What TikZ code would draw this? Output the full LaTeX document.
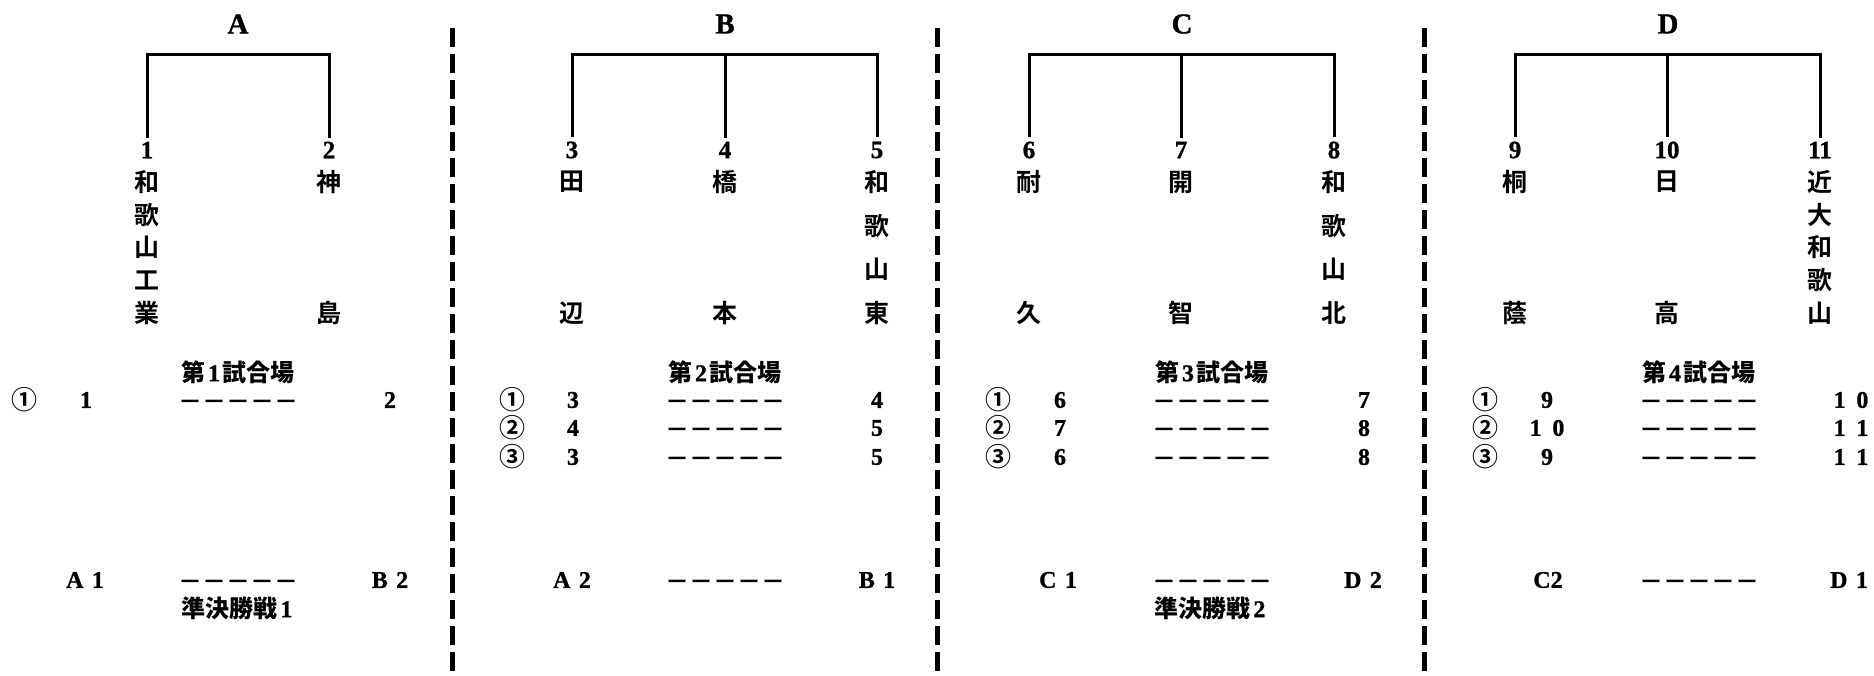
\documentclass[tikz,border=0pt]{standalone}
\usepackage{fontspec}
\setmainfont{Liberation Serif}[BoldFont={Liberation Serif Bold}, BoldFeatures={FakeBold=1}]
\newfontfamily\jp{Noto Sans CJK JP Bold}
\newcommand\mkvname[4]{%
  \foreach \ch [count=\i] in {#4} {%
    \node[kanji] (#1-\i) at (#2, {182+(\i-1)*131/(#3-1)}) {\ch};
  }%
}
\newcommand\gsp{\hspace{0.35em}}
\begin{document}
\begin{tikzpicture}[x=1pt,y=-1pt,
  every node/.style={inner sep=0pt},
  grp/.style={font=\fontsize{29}{29}\selectfont\bfseries},
  num/.style={font=\fontsize{25}{25}\selectfont\bfseries, inner sep=4pt},
  kanji/.style={font=\fontsize{25}{25}\selectfont\jp},
  lbl/.style={font=\fontsize{24}{24}\selectfont\bfseries},
  dsh/.style={font=\fontsize{24}{24}\selectfont\jp, yshift=-5pt},
  circ/.style={font=\fontsize{26}{26}\selectfont\jp},
  bracket/.style={line width=3pt},
  sep/.style={line width=5pt, dash pattern=on 18.5pt off 7.5pt}
]
\useasboundingbox (0,0) rectangle (1874,675);

% group titles
\node[grp] (gA) at (238,24) {A};
\node[grp] (gB) at (725,24) {B};
\node[grp] (gC) at (1182,24) {C};
\node[grp] (gD) at (1668,24) {D};

\coordinate (tA) at (238,54);
\coordinate (tB) at (725,54);
\coordinate (tC) at (1181,54);
\coordinate (tD) at (1667,54);

% team numbers
\node[num] (n1) at (147,150) {1};
\node[num] (n2) at (329,150) {2};
\node[num] (n3) at (572,150) {3};
\node[num] (n4) at (725,150) {4};
\node[num] (n5) at (877,150) {5};
\node[num] (n6) at (1029,150) {6};
\node[num] (n7) at (1181,150) {7};
\node[num] (n8) at (1334,150) {8};
\node[num] (n9) at (1515,150) {9};
\node[num] (n10) at (1667,150) {10};
\node[num] (n11) at (1820,150) {11};

% brackets
\draw[bracket] (n1.north) |- (tA) -| (n2.north);
\draw[bracket] (n3.north) |- (tB) -| (n5.north);
\draw[bracket] (n4.north) -- (tB);
\draw[bracket] (n6.north) |- (tC) -| (n8.north);
\draw[bracket] (n7.north) -- (tC);
\draw[bracket] (n9.north) |- (tD) -| (n11.north);
\draw[bracket] (n10.north) -- (tD);

% team names (vertical)
\mkvname{t1}{147}{5}{和,歌,山,工,業}
\mkvname{t2}{329}{2}{神,島}
\mkvname{t3}{572}{2}{田,辺}
\mkvname{t4}{725}{2}{橋,本}
\mkvname{t5}{877}{4}{和,歌,山,東}
\mkvname{t6}{1029}{2}{耐,久}
\mkvname{t7}{1181}{2}{開,智}
\mkvname{t8}{1334}{4}{和,歌,山,北}
\mkvname{t9}{1515}{2}{桐,蔭}
\mkvname{t10}{1667}{2}{日,高}
\mkvname{t11}{1820}{5}{近,大,和,歌,山}

% separators
\coordinate (s1t) at (452,28);  \coordinate (s1b) at (452,675);
\coordinate (s2t) at (937,28);  \coordinate (s2b) at (937,675);
\coordinate (s3t) at (1424,28); \coordinate (s3b) at (1424,675);
\draw[sep] (s1t) -- (s1b);
\draw[sep] (s2t) -- (s2b);
\draw[sep] (s3t) -- (s3b);

% venues
\node[lbl] (v1) at (238,372) {{\jp 第}\hspace{0.12em}1\hspace{0.12em}{\jp 試合場}};
\node[lbl] (v2) at (725,372) {{\jp 第}\hspace{0.12em}2\hspace{0.12em}{\jp 試合場}};
\node[lbl] (v3) at (1212,372) {{\jp 第}\hspace{0.12em}3\hspace{0.12em}{\jp 試合場}};
\node[lbl] (v4) at (1699,372) {{\jp 第}\hspace{0.12em}4\hspace{0.12em}{\jp 試合場}};

% group A matches
\node[circ] (a1c) at (25,400) {①};
\node[lbl] (a1l) at (86,400) {1};
\node[dsh] (a1d) at (238,400) {－－－－－};
\node[lbl] (a1r) at (390,400) {2};

% group B matches
\node[circ] (b1c) at (512,400) {①};
\node[lbl] (b1l) at (573,400) {3};
\node[dsh] (b1d) at (725,400) {－－－－－};
\node[lbl] (b1r) at (877,400) {4};
\node[circ] (b2c) at (512,428) {②};
\node[lbl] (b2l) at (573,428) {4};
\node[dsh] (b2d) at (725,428) {－－－－－};
\node[lbl] (b2r) at (877,428) {5};
\node[circ] (b3c) at (512,457) {③};
\node[lbl] (b3l) at (573,457) {3};
\node[dsh] (b3d) at (725,457) {－－－－－};
\node[lbl] (b3r) at (877,457) {5};

% group C matches
\node[circ] (c1c) at (998,400) {①};
\node[lbl] (c1l) at (1060,400) {6};
\node[dsh] (c1d) at (1212,400) {－－－－－};
\node[lbl] (c1r) at (1364,400) {7};
\node[circ] (c2c) at (998,428) {②};
\node[lbl] (c2l) at (1060,428) {7};
\node[dsh] (c2d) at (1212,428) {－－－－－};
\node[lbl] (c2r) at (1364,428) {8};
\node[circ] (c3c) at (998,457) {③};
\node[lbl] (c3l) at (1060,457) {6};
\node[dsh] (c3d) at (1212,457) {－－－－－};
\node[lbl] (c3r) at (1364,457) {8};

% group D matches
\node[circ] (d1c) at (1485,400) {①};
\node[lbl] (d1l) at (1547,400) {9};
\node[dsh] (d1d) at (1699,400) {－－－－－};
\node[lbl] (d1r) at (1851,400) {1\hspace{0.45em}0};
\node[circ] (d2c) at (1485,428) {②};
\node[lbl] (d2l) at (1547,428) {1\hspace{0.45em}0};
\node[dsh] (d2d) at (1699,428) {－－－－－};
\node[lbl] (d2r) at (1851,428) {1\hspace{0.45em}1};
\node[circ] (d3c) at (1485,457) {③};
\node[lbl] (d3l) at (1547,457) {9};
\node[dsh] (d3d) at (1699,457) {－－－－－};
\node[lbl] (d3r) at (1851,457) {1\hspace{0.45em}1};

% semifinal pairings
\node[lbl] (sa1) at (85,580) {A\gsp 1};
\node[dsh] (sad) at (238,580) {－－－－－};
\node[lbl] (sb2) at (390,580) {B\gsp 2};
\node[lbl] (sf1) at (237,608) {{\jp 準決勝戦}\hspace{0.12em}1};

\node[lbl] (sa2) at (572,580) {A\gsp 2};
\node[dsh] (sbd) at (725,580) {－－－－－};
\node[lbl] (sb1) at (877,580) {B\gsp 1};

\node[lbl] (sc1) at (1058,580) {C\gsp 1};
\node[dsh] (scd) at (1212,580) {－－－－－};
\node[lbl] (sd2) at (1363,580) {D\gsp 2};
\node[lbl] (sf2) at (1210,608) {{\jp 準決勝戦}\hspace{0.12em}2};

\node[lbl] (sc2) at (1548,580) {C2};
\node[dsh] (sdd) at (1699,580) {－－－－－};
\node[lbl] (sd1) at (1849,580) {D\gsp 1};
\end{tikzpicture}
\end{document}
